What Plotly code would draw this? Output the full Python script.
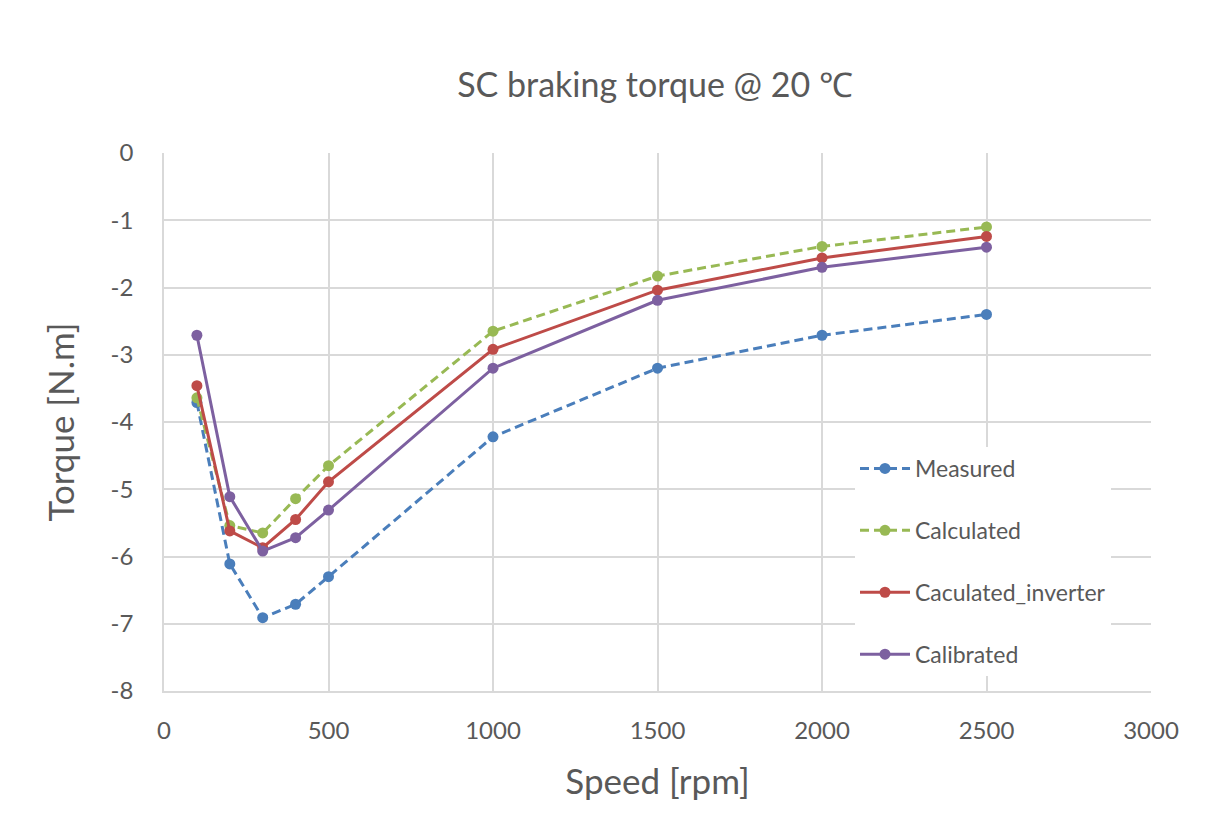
import plotly.graph_objects as go

speed = [100, 200, 300, 400, 500, 1000, 1500, 2000, 2500]
measured = [-3.71, -6.11, -6.91, -6.71, -6.30, -4.22, -3.20, -2.71, -2.40]
calculated = [-3.64, -5.54, -5.65, -5.14, -4.65, -2.65, -1.83, -1.39, -1.10]
calc_inverter = [-3.46, -5.62, -5.87, -5.45, -4.89, -2.92, -2.04, -1.56, -1.24]
calibrated = [-2.71, -5.11, -5.92, -5.72, -5.31, -3.20, -2.19, -1.70, -1.40]

y_tickvals = [0, -1, -2, -3, -4, -5, -6, -7, -8]
y_ticktext = ["0", "-1", "-2", "-3", "-4", "-5", "-6", "-7", "-8"]
x_tickvals = [0, 500, 1000, 1500, 2000, 2500, 3000]
x_ticktext = ["0", "500", "1000", "1500", "2000", "2500", "3000"]

series = [
    ("Measured", measured, "#4a7ebb", "9px,5px"),
    ("Calculated", calculated, "#98b954", "9px,5px"),
    ("Caculated_inverter", calc_inverter, "#be4b48", "solid"),
    ("Calibrated", calibrated, "#7d60a0", "solid"),
]

FONT = "Lato, Open Sans, sans-serif"
GRAY = "#595959"
OFF = 8  # page body margin offset

W, H = 1213 - OFF, 830 - OFF
L, T = 164 - OFF, 153 - OFF
PW, PH = 987, 538

fig = go.Figure()
for i, (name, vals, color, dash) in enumerate(series):
    fig.add_trace(go.Scatter(
        x=speed, y=vals, name=name, mode="lines+markers",
        line=dict(color=color, width=3, dash=dash),
        marker=dict(color=color, size=11),
        legendgroup=f"g{i}",
    ))

fig.update_layout(
    width=W, height=H,
    paper_bgcolor="white", plot_bgcolor="white",
    margin=dict(l=L, r=W - L - PW, t=T, b=H - T - PH),
    title=dict(text="SC braking torque @ 20 ℃", x=(655 - OFF) / W, xanchor="center",
               y=1 - (85 - OFF) / H, yanchor="middle",
               font=dict(family=FONT, size=34, color=GRAY)),
    font=dict(family=FONT, color=GRAY),
    legend=dict(x=(855 - 164) / PW, y=(691 - 447) / PH, xanchor="left", yanchor="top",
                bgcolor="white", traceorder="grouped", tracegroupgap=29,
                font=dict(family=FONT, size=23, color=GRAY),
                itemwidth=50),
    showlegend=True,
)
fig.update_xaxes(range=[0, 3000], tickvals=x_tickvals, ticktext=x_ticktext,
                 showgrid=True, gridcolor="#d9d9d9", gridwidth=1.5,
                 showline=True, linecolor="#d9d9d9", linewidth=1.5,
                 zeroline=False, ticks="outside", ticklen=17, tickcolor="rgba(0,0,0,0)",
                 tickfont=dict(family=FONT, size=24, color=GRAY),
                 title=dict(text="Speed [rpm]", font=dict(family=FONT, size=35, color=GRAY), standoff=27))
fig.update_yaxes(range=[-8, 0], tickvals=y_tickvals, ticktext=y_ticktext,
                 showgrid=True, gridcolor="#d9d9d9", gridwidth=1.5,
                 showline=True, linecolor="#d9d9d9", linewidth=1.5,
                 zeroline=False, ticks="outside", ticklen=24, tickcolor="rgba(0,0,0,0)",
                 tickfont=dict(family=FONT, size=24, color=GRAY),
                 title=dict(text="Torque [N.m]", font=dict(family=FONT, size=35, color=GRAY), standoff=25))

fig.write_html("out.html")
